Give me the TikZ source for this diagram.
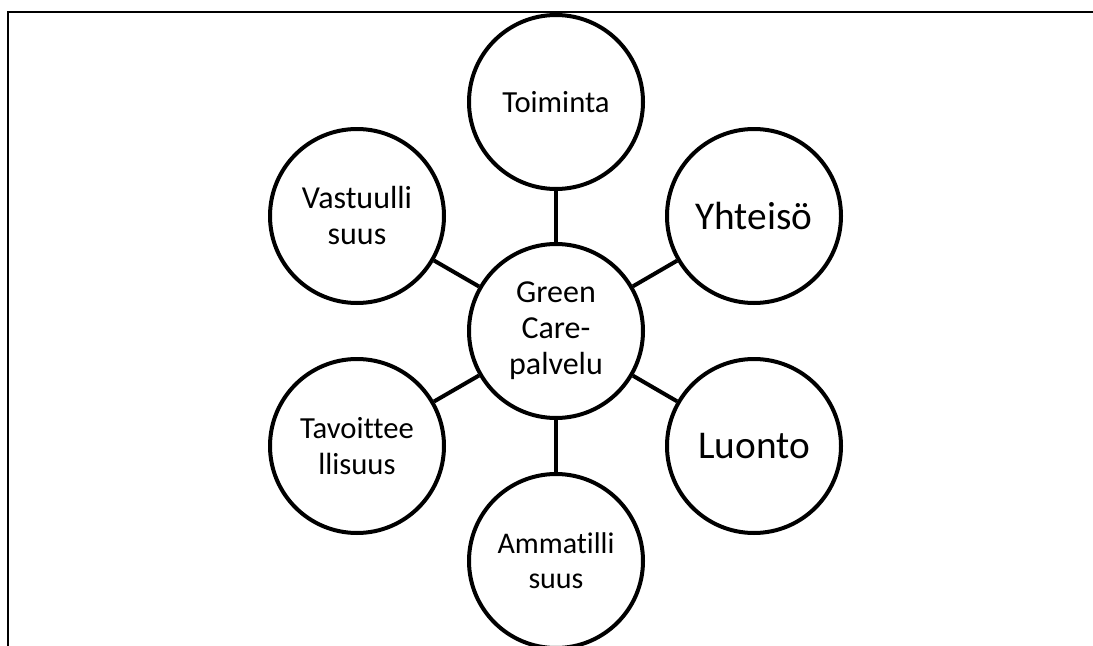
\documentclass[tikz,border=0pt]{standalone}
\usepackage{fontspec}
\setmainfont[Ligatures=NoCommon]{Carlito}
\usepackage{tikz}
\usetikzlibrary{calc}

\tikzset{
  ring/.style={circle, draw, line width=3pt, fill=white, minimum size=130.5pt, inner sep=0pt, align=center},
  spoke/.style={line width=3pt},
  txtn/.style={font=\fontsize{24}{27}\selectfont},
  txtb/.style={font=\fontsize{29.5}{34}\selectfont}
}

\begin{document}
\begin{tikzpicture}[x=0.75pt, y=-0.75pt]

\useasboundingbox (0,0) rectangle (1093,646);

% Drawing frame
\draw[line width=1.5pt] (8,646) -- (8,12) -- (1093,12);

% Drawing centre circle
\node[ring, txtn] (gc) at (556,331) {Green\\Care-\\palvelu};

% Drawing outer circles
\node[ring, font=\fontsize{23}{27}\selectfont] (toim) at (556,102) {Toiminta};
\node[ring, txtb] (yht) at (754,216) {Yhteisö};
\node[ring, txtb] (luo) at (754,446) {Luonto};
\node[ring, font=\fontsize{22.5}{26.5}\selectfont] (amm) at (556,561) {Ammatilli\\suus};
\node[ring, font=\fontsize{23}{27}\selectfont] (tav) at (357,446) {Tavoittee\\llisuus};
\node[ring, txtn] (vas) at (357,216) {Vastuulli\\suus};

% Connecting them
\draw[spoke] (gc) -- (toim);
\draw[spoke] (gc) -- (yht);
\draw[spoke] (gc) -- (luo);
\draw[spoke] (gc) -- (amm);
\draw[spoke] (gc) -- (tav);
\draw[spoke] (gc) -- (vas);

\end{tikzpicture}
\end{document}
